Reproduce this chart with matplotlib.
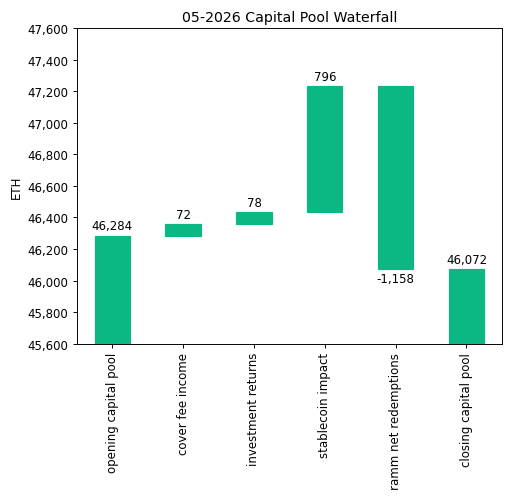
import matplotlib
matplotlib.use("Agg")
import matplotlib.pyplot as plt
from matplotlib.ticker import FuncFormatter
import numpy as np

categories = ["opening capital pool", "cover fee income", "investment returns",
              "stablecoin impact", "ramm net redemptions", "closing capital pool"]
changes = [46284, 72, 78, 796, -1158, 46072]
is_total = [True, False, False, False, False, True]
title = "05-2026 Capital Pool Waterfall"
ylabel = "ETH"

bottoms = []
heights = []
running = 0
for v, tot in zip(changes, is_total):
    if tot:
        bottoms.append(0)
        heights.append(v)
        running = v
    else:
        if v >= 0:
            bottoms.append(running)
            heights.append(v)
        else:
            bottoms.append(running + v)
            heights.append(-v)
        running += v

DPI = 85
fig = plt.figure(figsize=(509 / DPI, 499 / DPI), dpi=DPI)
ax = fig.add_axes([0.151, 0.309, 0.835, 0.633])
x = np.arange(len(categories))
color = "#0bb783"
ax.bar(x, heights, bottom=bottoms, width=0.5, color=color, edgecolor=color)
ax.set_xlim(-0.5, len(categories) - 0.5)
ax.set_ylim(45600, 47600)
ax.set_yticks(np.arange(45600, 47601, 200))
ax.yaxis.set_major_formatter(FuncFormatter(lambda v, p: f"{v:,.0f}"))
ax.set_xticks(x)
ax.set_xticklabels(categories, rotation=90)
ax.set_ylabel(ylabel)
ax.set_title(title)

for xi, v, b, h, tot in zip(x, changes, bottoms, heights, is_total):
    if v >= 0:
        ax.annotate(f"{v:,.0f}", (xi, b + h), xytext=(0, 3), textcoords="offset points",
                    ha="center", va="bottom", fontsize=10)
    else:
        ax.annotate(f"{v:,.0f}", (xi, b), xytext=(0, -2), textcoords="offset points",
                    ha="center", va="top", fontsize=10)

fig.savefig("out.png", dpi=DPI)
